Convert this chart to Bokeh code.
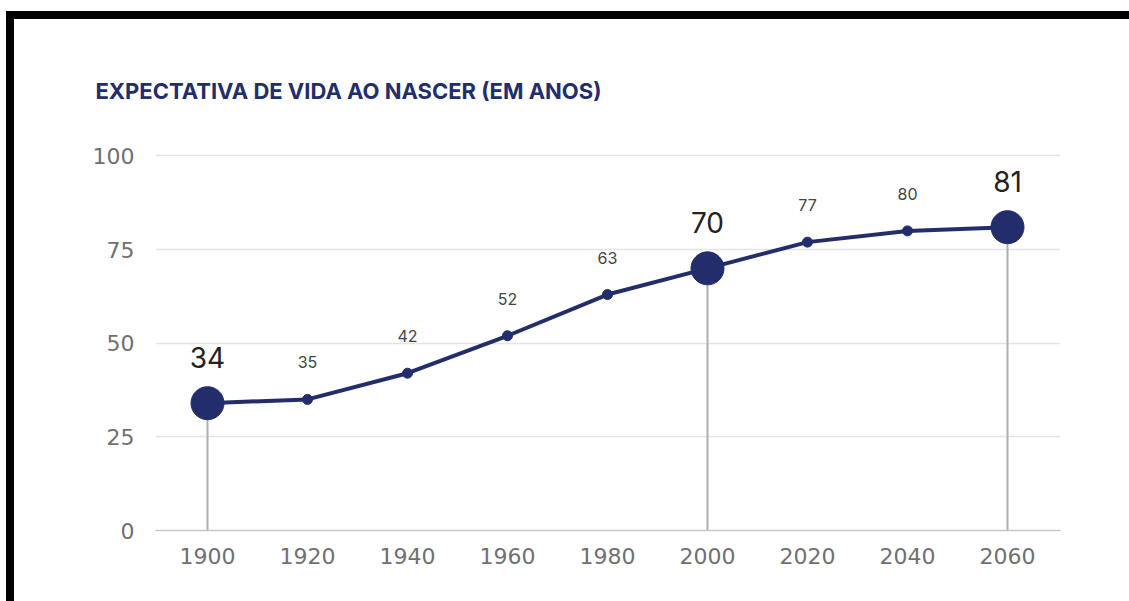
from bokeh.plotting import figure
from bokeh.models import Range1d
from bokeh.embed import file_html
from bokeh.resources import INLINE

years = [1900, 1920, 1940, 1960, 1980, 2000, 2020, 2040, 2060]
values = [34, 35, 42, 52, 63, 70, 77, 80, 81]
highlight_years = [1900, 2000, 2060]
y_ticks = [0, 25, 50, 75, 100]
title_text = "EXPECTATIVA DE VIDA AO NASCER (EM ANOS)"

NAVY = "#232d6b"

hi_vals = [v for y, v in zip(years, values) if y in highlight_years]
lo_years = [y for y in years if y not in highlight_years]
lo_vals = [v for y, v in zip(years, values) if y not in highlight_years]

p = figure(width=1123, height=590, output_backend="svg", toolbar_location=None,
           x_range=Range1d(1889.6, 2070.6), y_range=Range1d(0, 102),
           min_border_left=141, min_border_right=77, min_border_top=129, min_border_bottom=79)
p.styles = {"margin-top": "11px", "margin-left": "6px", "overflow": "hidden",
            "border-top": "8px solid black", "border-left": "8px solid black"}
p.background_fill_color = "white"
p.border_fill_color = "white"
p.outline_line_color = None

p.title.text = title_text
p.title.text_font = "Inter"
p.title.text_font_style = "bold"
p.title.text_font_size = "22px"
p.title.text_color = NAVY
p.title.align = "left"
p.title.offset = -60
p.title.standoff = 89

p.xgrid.visible = False
p.ygrid.grid_line_color = "#e4e4e4"
p.ygrid.grid_line_width = 1.5
p.yaxis.ticker = y_ticks
p.xaxis.ticker = years

p.yaxis.axis_line_color = None
p.yaxis.major_tick_line_color = None
p.yaxis.minor_tick_line_color = None
p.yaxis.major_label_standoff = 15
p.yaxis.major_label_text_font = "DejaVu Sans"
p.yaxis.major_label_text_font_size = "22px"
p.yaxis.major_label_text_color = "#707070"

p.xaxis.axis_line_color = "#c8c8c8"
p.xaxis.axis_line_width = 1.5
p.xaxis.major_tick_line_color = None
p.xaxis.minor_tick_line_color = None
p.xaxis.major_label_standoff = 11
p.xaxis.major_label_text_font = "DejaVu Sans"
p.xaxis.major_label_text_font_size = "22px"
p.xaxis.major_label_text_color = "#707070"

# stems
p.segment(x0=highlight_years, y0=[0] * len(highlight_years), x1=highlight_years, y1=hi_vals,
          line_color="#aeaeb6", line_width=2)

# line
p.line(years, values, line_color=NAVY, line_width=4)
p.scatter(lo_years, lo_vals, size=10, fill_color=NAVY, line_color=NAVY)
p.scatter(highlight_years, hi_vals, size=33, fill_color=NAVY, line_color=NAVY)

# labels
p.text(x=lo_years, y=lo_vals, text=[str(v) for v in lo_vals], text_align="center",
       text_baseline="middle", y_offset=-37, text_font_size="16px", text_color="#444444",
       text_font={"value": "Inter"})
p.text(x=highlight_years, y=hi_vals, text=[str(v) for v in hi_vals], text_align="center",
       text_baseline="middle", y_offset=-46, text_font_size="28px", text_color="#222222",
       text_font={"value": "Inter"})

open("out.html", "w").write(file_html(p, INLINE))
